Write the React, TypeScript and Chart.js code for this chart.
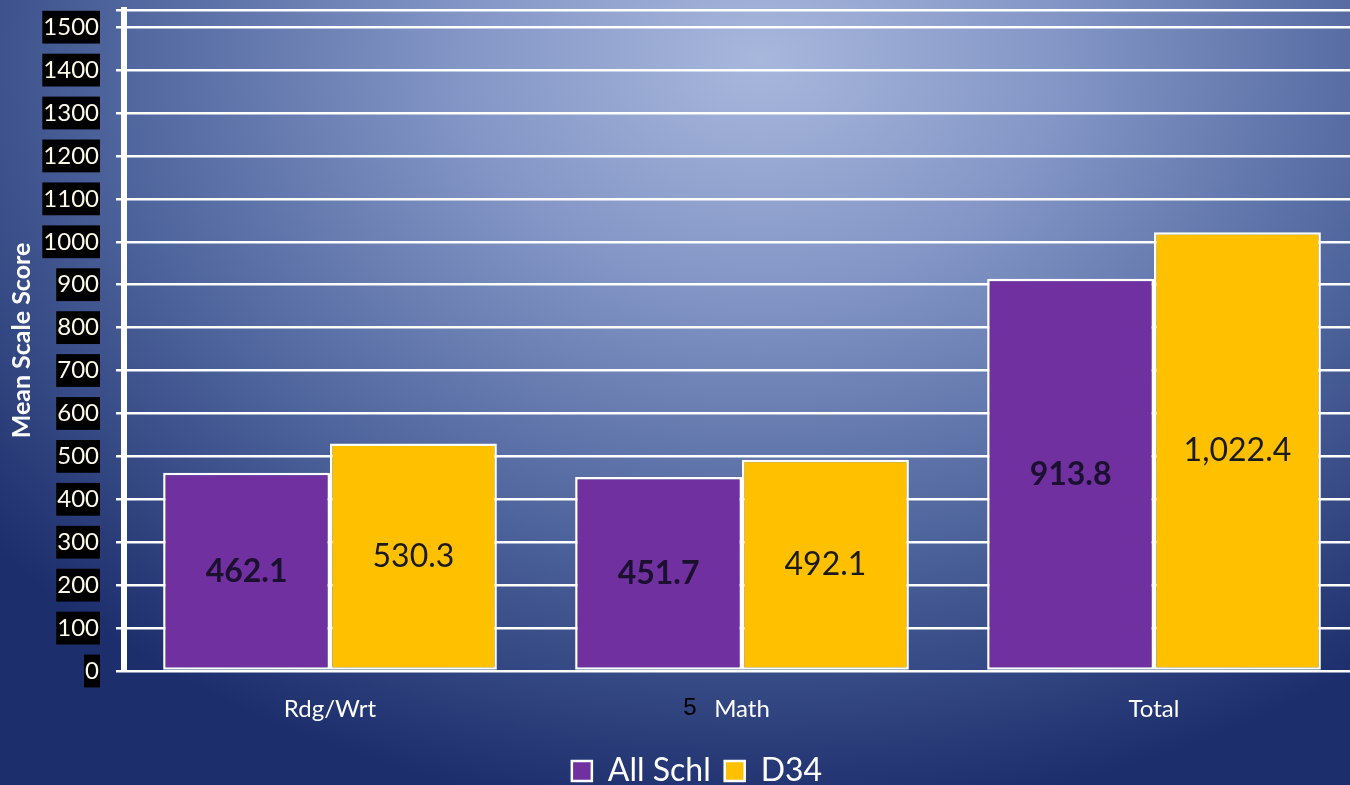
import React, { useEffect, useRef } from "react";
import { Chart, registerables } from "chart.js";

Chart.register(...registerables);

const CATEGORIES = ["Rdg/Wrt", "Math", "Total"];
const SERIES_NAMES = ["All Schl", "D34"];
const ALL_SCHL = [462.1, 451.7, 913.8];
const D34 = [530.3, 492.1, 1022.4];
const Y_TICKS = [0, 100, 200, 300, 400, 500, 600, 700, 800, 900, 1000, 1100, 1200, 1300, 1400, 1500];
const Y_MAX = 1540;
const Y_TITLE = "Mean Scale Score";
const STRAY_TEXT = "5";

const PURPLE = "#7030a0";
const GOLD = "#ffc000";

const fmt = (v: number) =>
  v.toLocaleString("en-US", { minimumFractionDigits: 1, maximumFractionDigits: 1 });

const valueLabels = {
  id: "valueLabels",
  afterDatasetsDraw(chart: any) {
    const ctx = chart.ctx;
    chart.data.datasets.forEach((ds: any, di: number) => {
      const meta = chart.getDatasetMeta(di);
      meta.data.forEach((el: any, i: number) => {
        const v = ds.data[i];
        const y = (el.y + el.base) / 2;
        ctx.save();
        ctx.font = di === 0 ? "bold 32px Lato" : "32px Lato";
        ctx.fillStyle = di === 0 ? "#1b1030" : "#1a1a1a";
        ctx.textAlign = "center";
        ctx.textBaseline = "middle";
        ctx.fillText(fmt(v), el.x, y);
        ctx.restore();
      });
    });
  },
};

const strayText = {
  id: "strayText",
  afterDraw(chart: any) {
    const xs = chart.scales.x;
    const ctx = chart.ctx;
    ctx.save();
    ctx.font = "24px 'Liberation Sans'";
    ctx.fillStyle = "#000";
    ctx.textAlign = "center";
    ctx.textBaseline = "middle";
    ctx.fillText(STRAY_TEXT, xs.getPixelForValue(1) - 52, xs.top + 37);
    ctx.restore();
  },
};

export default function App() {
  const ref = useRef<HTMLCanvasElement | null>(null);
  useEffect(() => {
    document.body.style.margin = "0";
    const chart = new Chart(ref.current as HTMLCanvasElement, {
      type: "bar",
      data: {
        labels: CATEGORIES,
        datasets: [
          {
            label: SERIES_NAMES[0],
            data: ALL_SCHL,
            backgroundColor: PURPLE,
            borderColor: "#ffffff",
            borderWidth: 2.5,
            borderSkipped: false,
            categoryPercentage: 0.81,
            barPercentage: 1,
            yAxisID: "y",
          },
          {
            label: SERIES_NAMES[1],
            data: D34,
            backgroundColor: GOLD,
            borderColor: "#ffffff",
            borderWidth: 2.5,
            borderSkipped: false,
            categoryPercentage: 0.81,
            barPercentage: 1,
            yAxisID: "y",
          },
        ],
      },
      options: {
        animation: false,
        responsive: false,
        devicePixelRatio: 1,
        layout: { padding: { top: 10, bottom: 0, left: 0, right: 0 } },
        plugins: {
          legend: {
            position: "bottom",
            labels: {
              color: "#ffffff",
              font: { family: "Lato", size: 32 },
              boxWidth: 20,
              boxHeight: 20,
              padding: 14,
            },
          },
          tooltip: { enabled: false },
        },
        scales: {
          x: {
            grid: { display: false, drawTicks: false },
            border: { display: false },
            ticks: { color: "#ffffff", font: { family: "Lato", size: 24 }, padding: 24 },
            afterFit: (s: any) => {
              s.height = 70;
            },
          },
          y: {
            min: 0,
            max: Y_MAX,
            position: "left",
            afterBuildTicks: (s: any) => {
              s.ticks = [...Y_TICKS.map((v) => ({ value: v })), { value: Y_MAX }];
            },
            afterFit: (s: any) => {
              s.width = 124;
              s.paddingTop = 0;
              s.paddingBottom = 0;
            },
            grid: { color: "#ffffff", lineWidth: 2.5, tickLength: 8, tickColor: "#ffffff" },
            border: { display: true, color: "#ffffff", width: 6 },
            ticks: {
              color: "#fffbea",
              font: { family: "Lato", size: 24 },
              padding: 17,
              showLabelBackdrop: true,
              backdropColor: (c: any) => (c.tick && c.tick.value === Y_MAX ? "rgba(0,0,0,0)" : "#000000"),
              backdropPadding: { x: 1, y: 2 },
              callback: (v: any) => (v === Y_MAX ? "" : String(v)),
            },
            title: {
              display: true,
              text: Y_TITLE,
              color: "#ffffff",
              font: { family: "Lato", size: 25, weight: "bold" },
              padding: { top: 7, bottom: 0 },
            },
          },
          y2: {
            min: 0,
            max: Y_MAX,
            position: "right",
            grid: { display: false, drawTicks: false },
            border: { display: false },
            ticks: { display: false },
            afterFit: (s: any) => {
              s.width = 34;
              s.paddingTop = 0;
              s.paddingBottom = 0;
            },
          },
        },
      },
      plugins: [valueLabels, strayText],
    } as any);
    return () => chart.destroy();
  }, []);

  return (
    <div
      style={{
        position: "fixed",
        left: 0,
        top: 0,
        width: 1350,
        height: 785,
        overflow: "hidden",
        background:
          "radial-gradient(ellipse 1000px 760px at 760px 60px, #a8b7dc 0%, #8396c6 30%, #4e649c 65%, #1c2e6c 100%)",
      }}
    >
      <canvas ref={ref} width={1394} height={797} style={{ display: "block" }} />
    </div>
  );
}
